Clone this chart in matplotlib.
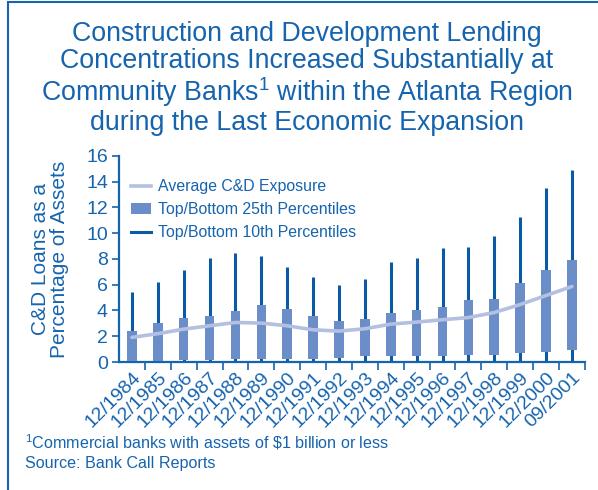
import matplotlib
matplotlib.use("Agg")
import matplotlib.pyplot as plt
from matplotlib.lines import Line2D
from matplotlib.patches import Patch, Rectangle

plt.rcParams["font.family"] = ["Liberation Sans", "DejaVu Sans"]
plt.rcParams["mathtext.fontset"] = "custom"
plt.rcParams["mathtext.rm"] = "Liberation Sans"
plt.rcParams["mathtext.default"] = "rm"

# data (percent of assets)
periods = ["12/1984", "12/1985", "12/1986", "12/1987", "12/1988", "12/1989",
           "12/1990", "12/1991", "12/1992", "12/1993", "12/1994", "12/1995",
           "12/1996", "12/1997", "12/1998", "12/1999", "12/2000", "09/2001"]
average = [1.91, 2.2, 2.55, 2.81, 3.07, 3.02, 2.81, 2.5, 2.4, 2.58, 2.94, 3.1,
           3.28, 3.45, 3.84, 4.46, 5.16, 5.86]
p25_bottom = [0.05, 0.1, 0.18, 0.15, 0.2, 0.25, 0.25, 0.25, 0.3, 0.43, 0.43,
              0.48, 0.5, 0.55, 0.55, 0.67, 0.8, 0.95]
p25_top = [2.42, 3.0, 3.43, 3.58, 3.97, 4.39, 4.13, 3.58, 3.2, 3.35, 3.77,
           4.05, 4.28, 4.83, 4.9, 6.14, 7.15, 7.92]
p10_bottom = [0.0] * 18
p10_top = [5.42, 6.17, 7.15, 8.05, 8.44, 8.26, 7.41, 6.56, 5.96, 6.45, 7.77,
           8.08, 8.83, 8.96, 9.78, 11.23, 13.53, 14.92]

BLUE = "#1664ae"
BAR = "#6b8ec8"
WHISK = "#0b5aa6"
AVG = "#b3c0e2"

fig = plt.figure(figsize=(5.98, 4.90), dpi=100)
ax = fig.add_axes([0.199, 0.2612, 0.779, 0.4208])

x = list(range(len(periods)))
ax.vlines(x, p10_bottom, p10_top, color=WHISK, linewidth=2.2, zorder=2)
heights = [t - b for t, b in zip(p25_top, p25_bottom)]
ax.bar(x, heights, bottom=p25_bottom, width=0.37, color=BAR, zorder=3)
ax.plot(x, average, color=AVG, linewidth=2.6, zorder=4, solid_capstyle="round")

ax.set_xlim(-0.5, len(periods) - 0.5)
ax.set_ylim(0, 16)
ax.set_yticks(range(0, 17, 2))
ax.set_xticks(x)
ax.set_xticklabels(periods, rotation=45, ha="right", rotation_mode="anchor",
                   fontsize=14, color=BLUE)
ax.set_xticks([i + 0.5 for i in x], minor=True)
ax.tick_params(axis="x", which="major", length=0, pad=5)
ax.tick_params(axis="x", which="minor", length=6, width=1.2, color=BLUE,
               direction="out")
ax.tick_params(axis="y", length=5, width=1.2, color=BLUE, labelcolor=BLUE,
               labelsize=14, pad=3)

for s in ["top", "right"]:
    ax.spines[s].set_visible(False)
for s in ["left", "bottom"]:
    ax.spines[s].set_color(BLUE)
    ax.spines[s].set_linewidth(1.6)

ax.set_ylabel("C&D Loans as a\nPercentage of Assets", color=BLUE,
              fontsize=15, linespacing=1.05, labelpad=12)

handles = [Line2D([], [], color=AVG, linewidth=2.6),
           Patch(facecolor=BAR, edgecolor="none"),
           Line2D([], [], color=WHISK, linewidth=2.2)]
labels = ["Average C&D Exposure", "Top/Bottom 25th Percentiles",
          "Top/Bottom 10th Percentiles"]
leg = ax.legend(handles, labels, loc="upper left", bbox_to_anchor=(-0.005, 0.955),
                frameon=False, fontsize=11.4, handlelength=1.25,
                handletextpad=0.45, labelspacing=0.5, labelcolor=BLUE)

fig.text(0.513, 0.957, "Construction and Development Lending\n"
         "Concentrations Increased Substantially at\n"
         "Community Banks$^{1}$ within the Atlanta Region\n"
         "during the Last Economic Expansion",
         ha="center", va="top", fontsize=19.3, color=BLUE, linespacing=1.04)

fig.text(0.042, 0.084, "$^{1}$Commercial banks with assets of \\$1 billion or less",
         fontsize=11.6, color=BLUE)
fig.text(0.042, 0.045, "Source: Bank Call Reports", fontsize=11.6, color=BLUE)

# frame on the left and top edges, as in the original slide
fig.patches.append(Rectangle((7.5 / 598, -0.1), 1.2, 1.1 - 2.5 / 490,
                             transform=fig.transFigure, fill=False,
                             edgecolor=BLUE, linewidth=1.5))

fig.savefig("out.png", dpi=100)
